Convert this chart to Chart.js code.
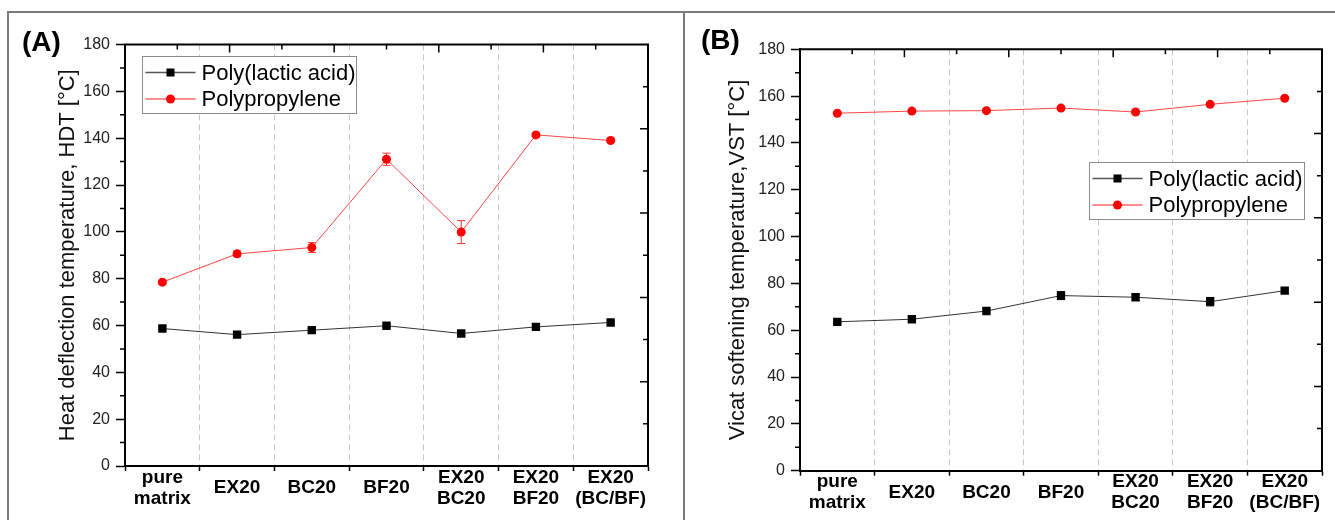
<!DOCTYPE html>
<html><head><meta charset="utf-8">
<script src="https://cdn.jsdelivr.net/npm/chart.js@4.4.1/dist/chart.umd.min.js"></script>
<style>
html,body{margin:0;padding:0;background:#fff;}
body{width:1335px;height:520px;position:relative;overflow:hidden;font-family:'Liberation Sans',Arial,sans-serif;}
.fl{position:absolute;background:#7a7a7a;}
.panel-label{position:absolute;font-weight:bold;font-size:28px;line-height:28px;color:#000;font-family:'Liberation Sans',Arial,sans-serif;}
#cA{position:absolute;left:0;top:0;}
#cB{position:absolute;left:684px;top:0;}
</style></head><body>
<div class="fl" style="left:7px;top:11px;width:1328px;height:1.5px"></div>
<div class="fl" style="left:7px;top:11px;width:1.5px;height:509px"></div>
<div class="fl" style="left:683px;top:11px;width:1.5px;height:509px"></div>
<canvas id="cA" width="684" height="520"></canvas>
<canvas id="cB" width="651" height="520"></canvas>
<div class="panel-label" style="left:22px;top:28px">(A)</div>
<div class="panel-label" style="left:701px;top:26px">(B)</div>
<script>
// ---------- data ----------
const categories = [['pure','matrix'],'EX20','BC20','BF20',['EX20','BC20'],['EX20','BF20'],['EX20','(BC/BF)']];
const seriesNames = ['Poly(lactic acid)','Polypropylene'];
const hdtPLA    = [58.7, 56.1, 58.0, 59.9, 56.6, 59.4, 61.3];
const hdtPLAErr = [0.9, 0.8, 0.8, 0.8, 0.9, 0.9, 0.9];
const hdtPP     = [78.5, 90.6, 93.3, 131.0, 99.9, 141.4, 139.0];
const hdtPPErr  = [0.8, 1.2, 2.1, 2.6, 4.9, 0.8, 0.8];
const vstPLA    = [63.6, 64.7, 68.2, 74.8, 74.1, 72.2, 76.9];
const vstPLAErr = [0.8, 0.8, 0.9, 1.7, 1.4, 1.8, 1.1];
const vstPP     = [152.7, 153.6, 153.8, 154.9, 153.2, 156.5, 159.1];
const vstPPErr  = [0.6, 0.6, 0.6, 0.7, 0.7, 0.7, 0.7];
const yMin = 0, yMax = 180, yStep = 20, yMinorStep = 10;
const mirrorDivisions = 10; // opposite (top / right) axes: ticks at tenths, major every second
const yTitleA = 'Heat deflection temperature, HDT [°C]';
const yTitleB = 'Vicat softening temperature,VST [°C]';

// ---------- fonts ----------
function hasFont(name){
  const c=document.createElement('canvas').getContext('2d');
  const s='EX20 (BC/BF) matrix';
  c.font='bold 40px monospace'; const w1=c.measureText(s).width;
  c.font='bold 40px "'+name+'", monospace'; const w2=c.measureText(s).width;
  return Math.abs(w1-w2)>0.5;
}
const narrow = hasFont('Liberation Sans Narrow');
const SANS = '"Liberation Sans", Arial, sans-serif';
const catFont = narrow
  ? {family:'"Liberation Sans Narrow", "Liberation Sans", sans-serif', size:22, weight:'bold', lineHeight:'21px'}
  : {family:SANS, size:19, weight:'bold', lineHeight:'21px'};

// ---------- plugin: error bars, frame, minor ticks, legend ----------
const decor = {
  id:'decor',
  beforeDatasetsDraw(chart, args, opts){
    const ctx=chart.ctx, ys=chart.scales.y;
    chart.data.datasets.forEach((ds,i)=>{
      const meta=chart.getDatasetMeta(i), err=opts.errors[i];
      ctx.save(); ctx.strokeStyle=ds.errColor; ctx.lineWidth=1;
      meta.data.forEach((pt,j)=>{
        const v=ds.data[j], e=err[j];
        const y1=ys.getPixelForValue(v+e), y2=ys.getPixelForValue(v-e);
        ctx.beginPath();
        ctx.moveTo(pt.x,y1); ctx.lineTo(pt.x,y2);
        ctx.moveTo(pt.x-4,y1); ctx.lineTo(pt.x+4,y1);
        ctx.moveTo(pt.x-4,y2); ctx.lineTo(pt.x+4,y2);
        ctx.stroke();
      });
      ctx.restore();
    });
  },
  afterDraw(chart, args, opts){
    const ctx=chart.ctx, a=chart.chartArea, ys=chart.scales.y;
    ctx.save();
    ctx.strokeStyle='#000'; ctx.lineWidth=2;
    ctx.beginPath(); ctx.moveTo(a.left-1,a.top); ctx.lineTo(a.right,a.top); ctx.lineTo(a.right,a.bottom+1); ctx.stroke();
    ctx.lineWidth=1.5; ctx.beginPath();
    for(let v=yMin+yMinorStep; v<yMax; v+=yStep){
      const py=ys.getPixelForValue(v); ctx.moveTo(a.left-5,py); ctx.lineTo(a.left,py);
    }
    // mirrored top / right axis ticks (inward)
    const W=a.right-a.left, H=a.bottom-a.top;
    for(let k=1;k<mirrorDivisions;k++){
      const len = (k%2===0)?8:5;
      const px=a.left+W*k/mirrorDivisions;
      ctx.moveTo(px,a.top); ctx.lineTo(px,a.top+len);
      const py=a.bottom-H*k/mirrorDivisions;
      ctx.moveTo(a.right,py); ctx.lineTo(a.right-len,py);
    }
    ctx.stroke();
    // legend
    const L=opts.legend, x0=Math.round(a.left+L.dx)+0.5, y0=Math.round(a.top+L.dy)+0.5;
    ctx.fillStyle='#fff'; ctx.fillRect(x0,y0,L.w,L.h);
    ctx.strokeStyle='#8c8c8c'; ctx.lineWidth=1; ctx.strokeRect(x0,y0,L.w,L.h);
    ctx.font='22px '+SANS; ctx.textBaseline='middle'; ctx.textAlign='left';
    chart.data.datasets.forEach((ds,i)=>{
      const cy=y0+16+i*26.5;
      ctx.strokeStyle=ds.legendLine; ctx.lineWidth=1.5;
      ctx.beginPath(); ctx.moveTo(x0+3,cy); ctx.lineTo(x0+53,cy); ctx.stroke();
      ctx.fillStyle=ds.pointBackgroundColor;
      if(ds.pointStyle==='rect'){ ctx.fillRect(x0+28-4,cy-4,8,8); }
      else { ctx.beginPath(); ctx.arc(x0+28,cy,4.5,0,Math.PI*2); ctx.fill(); }
      ctx.fillStyle='#000'; ctx.fillText(ds.label, x0+59, cy+1);
    });
    ctx.restore();
  }
};

function makeChart(id, pad, yWidth, xHeight, titlePad, yTitle, pla, ppv, errs, legend){
  return new Chart(document.getElementById(id), {
    type:'line',
    data:{
      labels:categories,
      datasets:[
        {label:seriesNames[0], data:pla, borderColor:'#333', borderWidth:1, tension:0,
         pointStyle:'rect', pointRadius:5.9, pointBorderWidth:0, pointBackgroundColor:'#000',
         errColor:'#000', legendLine:'#555'},
        {label:seriesNames[1], data:ppv, borderColor:'#ff4545', borderWidth:1, tension:0,
         pointStyle:'circle', pointRadius:4.5, pointBorderWidth:0, pointBackgroundColor:'#ff0000',
         errColor:'#ff3030', legendLine:'#ff6a6a'}
      ]
    },
    options:{
      responsive:false, animation:false, devicePixelRatio:1, events:[],
      layout:{padding:pad},
      plugins:{legend:{display:false}, tooltip:{enabled:false}, decor:{errors:errs, legend:legend}},
      scales:{
        x:{type:'category', offset:true,
           grid:{display:true, offset:true, drawOnChartArea:true, color:'#c6c6c6', lineWidth:1,
                 drawTicks:true, tickLength:5, tickColor:'#000', tickWidth:1.5},
           border:{display:true, color:'#000', width:2, dash:[6,4]},
           ticks:{font:catFont, color:'#000', padding:6.5, crossAlign:'center', maxRotation:0, minRotation:0, autoSkip:false},
           afterFit(s){ s.height=xHeight; }},
        y:{min:yMin, max:yMax,
           ticks:{stepSize:yStep, color:'#222', font:{family:SANS, size:16}, padding:6},
           grid:{drawOnChartArea:false, drawTicks:true, tickLength:9, tickColor:'#000', tickWidth:1.5},
           border:{display:true, color:'#000', width:2},
           title:{display:true, text:yTitle, color:'#111', font:{family:SANS, size:22}, padding:{top:titlePad, bottom:0}},
           afterFit(s){ s.width=yWidth; }}
      }
    },
    plugins:[decor]
  });
}

makeChart('cA', {left:0, right:36, top:44.5, bottom:0}, 125, 54, 54.8, yTitleA,
  hdtPLA, hdtPP, [hdtPLAErr, hdtPPErr], {dx:17.3, dy:11.5, w:214, h:57});
makeChart('cB', {left:0, right:13, top:49.3, bottom:0}, 116, 49.3, 40.3, yTitleB,
  vstPLA, vstPP, [vstPLAErr, vstPPErr], {dx:289, dy:112.7, w:215, h:57});
</script>
</body></html>
